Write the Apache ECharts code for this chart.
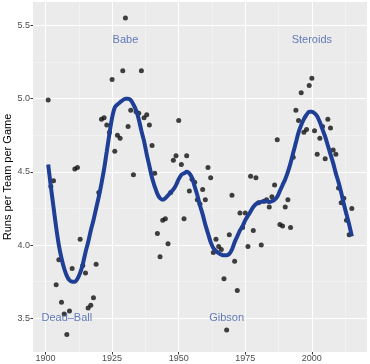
<!DOCTYPE html>
<html><head><meta charset="utf-8">
<script src="https://cdn.jsdelivr.net/npm/echarts@6/dist/echarts.min.js"></script>
<style>html,body{margin:0;padding:0;background:#fff}#c{width:370px;height:364px}</style>
</head><body><div id="c"></div>
<script>
const seasons = [1901,1902,1903,1904,1905,1906,1907,1908,1909,1910,
1911,1912,1913,1914,1915,1916,1917,1918,1919,1920,
1921,1922,1923,1924,1925,1926,1927,1928,1929,1930,
1931,1932,1933,1934,1935,1936,1937,1938,1939,1940,
1941,1942,1943,1944,1945,1946,1947,1948,1949,1950,
1951,1952,1953,1954,1955,1956,1957,1958,1959,1960,
1961,1962,1963,1964,1965,1966,1967,1968,1969,1970,
1971,1972,1973,1974,1975,1976,1977,1978,1979,1980,
1981,1982,1983,1984,1985,1986,1987,1988,1989,1990,
1991,1992,1993,1994,1995,1996,1997,1998,1999,2000,
2001,2002,2003,2004,2005,2006,2007,2008,2009,2010,
2011,2012,2013,2014,2015];
const runsPerGame = [4.99,4.40,4.44,3.73,3.90,3.61,3.53,3.39,3.55,3.84,
4.52,4.53,4.04,3.86,3.81,3.57,3.59,3.64,3.87,4.36,
4.86,4.87,4.82,4.77,5.13,4.64,4.75,4.73,5.19,5.55,
4.81,4.92,4.48,4.91,4.90,5.19,4.87,4.89,4.82,4.68,
4.49,4.08,3.92,4.17,4.18,4.01,4.36,4.58,4.61,4.85,
4.55,4.18,4.61,4.37,4.45,4.43,4.31,4.28,4.38,4.31,
4.53,4.46,3.95,4.04,3.99,3.97,3.77,3.42,4.07,4.34,
3.89,3.69,4.22,4.12,4.22,3.99,4.47,4.10,4.46,4.29,
4.00,4.30,4.31,4.26,4.33,4.41,4.72,4.14,4.13,4.26,
4.31,4.12,4.60,4.92,4.85,5.04,4.77,4.79,5.09,5.14,
4.78,4.62,4.73,4.81,4.59,4.86,4.80,4.65,4.62,4.39,
4.29,4.32,4.17,4.07,4.25];
const smoothValues = [4.55,4.40,4.26,4.12,4.00,3.91,3.84,3.79,3.76,3.75,
3.75,3.77,3.81,3.87,3.95,4.02,4.10,4.17,4.25,4.33,
4.42,4.52,4.64,4.76,4.87,4.94,4.96,4.975,4.99,5.00,
5.00,4.99,4.96,4.92,4.86,4.78,4.71,4.62,4.54,4.46,
4.40,4.35,4.32,4.31,4.32,4.34,4.36,4.38,4.41,4.45,
4.48,4.49,4.50,4.49,4.46,4.40,4.34,4.27,4.21,4.14,
4.08,4.02,3.98,3.96,3.945,3.935,3.93,3.93,3.94,3.97,
4.02,4.06,4.10,4.13,4.17,4.20,4.23,4.26,4.28,4.29,
4.295,4.30,4.30,4.295,4.30,4.31,4.33,4.37,4.41,4.45,
4.50,4.56,4.63,4.70,4.77,4.82,4.86,4.89,4.91,4.91,
4.90,4.88,4.84,4.79,4.74,4.68,4.62,4.56,4.49,4.43,
4.36,4.28,4.21,4.14,4.06];
const xTicks = [1900,1925,1950,1975,2000];
const xMinorBreaks = [1912.5,1937.5,1962.5,1987.5,2012.5];
const yTicks = [3.5,4.0,4.5,5.0,5.5];
const yMinorBreaks = [3.75,4.25,4.75,5.25];
const noteTexts = ['Dead\u2013Ball','Babe','Gibson','Steroids'];
const noteYears = [1908,1930,1968,2000];
const noteValues = [3.5,5.4,3.5,5.4];

const xMin = 1895.3, xMax = 2020.7, yMin = 3.27, yMax = 5.66;
const FONT = 'Liberation Sans, Arial, sans-serif';

const chart = echarts.init(document.getElementById('c'), null, {renderer:'canvas'});
chart.setOption({
  animation: false,
  backgroundColor: '#ffffff',
  grid: {left: 33, right: 3, top: 2, bottom: 12, show: true, backgroundColor: '#EBEBEB', borderWidth: 0, outerBoundsMode: 'none', containLabel: false},
  xAxis: [{
    type: 'value', min: xMin, max: xMax,
    axisLine: {show: false},
    axisTick: {show: true, length: 2.5, customValues: xTicks, lineStyle: {color: '#333', width: 1}},
    axisLabel: {customValues: xTicks, margin: 2, color: '#4D4D4D', fontSize: 9, fontFamily: FONT,
      formatter: v => String(Math.round(v))},
    splitLine: {show: true, lineStyle: {color: '#ffffff', width: 1.1}}
  },{
    type: 'value', min: xMin, max: xMax, position: 'top',
    axisLine: {show: false}, axisLabel: {show: false},
    axisTick: {show: false, customValues: xMinorBreaks},
    splitLine: {show: true, lineStyle: {color: '#F6F6F6', width: 0.6}}
  }],
  yAxis: [{
    type: 'value', min: yMin, max: yMax,
    axisLine: {show: false},
    axisTick: {show: true, length: 2.5, customValues: yTicks, lineStyle: {color: '#333', width: 1}},
    axisLabel: {customValues: yTicks, margin: 3, color: '#4D4D4D', fontSize: 9, fontFamily: FONT,
      formatter: v => v.toFixed(1)},
    splitLine: {show: true, lineStyle: {color: '#ffffff', width: 1.1}},
    name: 'Runs per Team per Game', nameLocation: 'middle', nameGap: 20, nameMoveOverlap: false,
    nameTextStyle: {color: '#000', fontSize: 11, fontFamily: FONT}
  },{
    type: 'value', min: yMin, max: yMax, position: 'right',
    axisLine: {show: false}, axisLabel: {show: false},
    axisTick: {show: false, customValues: yMinorBreaks},
    splitLine: {show: true, lineStyle: {color: '#F6F6F6', width: 0.6}}
  }],
  series: [{
    type: 'scatter', xAxisIndex: 0, yAxisIndex: 0,
    data: seasons.map((s, i) => [s, runsPerGame[i]]),
    symbolSize: 5, itemStyle: {color: '#111111'}, z: 2
  },{
    type: 'line', xAxisIndex: 0, yAxisIndex: 0,
    data: seasons.map((s, i) => [s, smoothValues[i]]),
    showSymbol: false, smooth: 0.3,
    lineStyle: {color: '#1F3F96', width: 4}, z: 3
  },{
    type: 'scatter', xAxisIndex: 0, yAxisIndex: 0,
    data: noteTexts.map((t, i) => [noteYears[i], noteValues[i], t]),
    symbolSize: 1, itemStyle: {color: 'rgba(0,0,0,0)'}, z: 4,
    label: {show: true, position: 'inside', formatter: p => p.data[2],
      color: '#3F5EA8', fontSize: 11, fontFamily: FONT}
  }]
});
</script>
</body></html>
